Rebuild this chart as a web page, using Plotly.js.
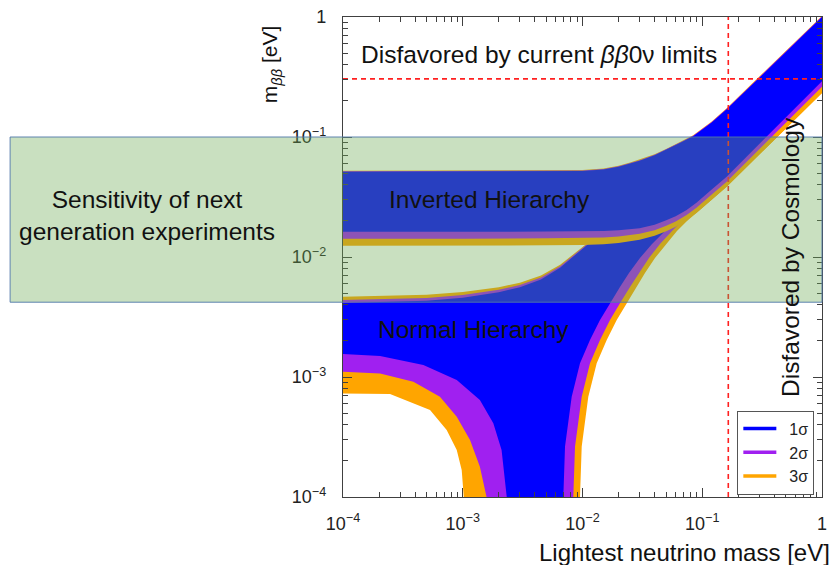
<!DOCTYPE html>
<html>
<head>
<meta charset="utf-8">
<script src="https://cdn.plot.ly/plotly-3.0.1.min.js"></script>
<style>
  html, body { margin: 0; padding: 0; background: #ffffff; }
  #chart { width: 835px; height: 565px; }
</style>
</head>
<body>
<div id="chart"></div>
<script>
// Effective Majorana mass m_bb [eV] versus lightest neutrino mass [eV].

// ---------- Inverted hierarchy ----------
const ihUpX  = [1e-4, 1e-3, 5e-3, 0.01, 0.015, 0.02, 0.025, 0.03, 0.04, 0.05, 0.065, 0.084, 0.12, 0.16, 0.285, 0.5, 1.0];
const ihUp1  = [0.0514, 0.0514, 0.0516, 0.0521, 0.0535, 0.0565, 0.0600, 0.0635, 0.0705, 0.0780, 0.0890, 0.1015, 0.132, 0.170, 0.298, 0.515, 1.0];
const ihUp2  = [0.0519, 0.0519, 0.0521, 0.0526, 0.0540, 0.0571, 0.0606, 0.0641, 0.0712, 0.0788, 0.0899, 0.1025, 0.1333, 0.1717, 0.301, 0.520, 1.01];
const ihUp3  = [0.0524, 0.0524, 0.0526, 0.0531, 0.0546, 0.0576, 0.0612, 0.0648, 0.0719, 0.0796, 0.0908, 0.1035, 0.1346, 0.1734, 0.304, 0.525, 1.02];

const ihLoX  = [1e-4, 1e-3, 5e-3, 0.01, 0.015, 0.02, 0.03, 0.04, 0.05, 0.06, 0.0741, 0.09, 0.116, 0.16, 0.22, 0.303, 0.5, 1.0];
const ihLo1  = [0.01625, 0.01625, 0.01628, 0.01635, 0.0165, 0.0167, 0.0174, 0.0186, 0.0202, 0.0219, 0.0246, 0.0285, 0.0355, 0.0467, 0.0643, 0.0886, 0.146, 0.291];
const ihLo2  = [0.0142, 0.0142, 0.0143, 0.0144, 0.01455, 0.0148, 0.0156, 0.0167, 0.0182, 0.0198, 0.0224, 0.0258, 0.0322, 0.0424, 0.0584, 0.080, 0.131, 0.262];
const ihLo3  = [0.0124, 0.0124, 0.0125, 0.0126, 0.0128, 0.0131, 0.0139, 0.0150, 0.0164, 0.0179, 0.0203, 0.0234, 0.0292, 0.0385, 0.0531, 0.0731, 0.118, 0.233];

// ---------- Normal hierarchy ----------
const nhUpX  = [1e-4, 5e-4, 1e-3, 2e-3, 3e-3, 4.5e-3, 6.5e-3, 8e-3, 9.5e-3, 0.012, 0.015, 0.02, 0.03, 0.05, 0.08, 0.16, 0.3, 0.5, 1.0];
const nhUp1  = [4.14e-3, 4.32e-3, 4.58e-3, 5.08e-3, 5.60e-3, 6.50e-3, 8.15e-3, 9.65e-3, 0.0112, 0.0136, 0.0164, 0.0214, 0.0311, 0.0511, 0.0806, 0.159, 0.288, 0.487, 0.965];
const nhUp2  = [4.38e-3, 4.56e-3, 4.82e-3, 5.33e-3, 5.84e-3, 6.75e-3, 8.37e-3, 9.88e-3, 0.0114, 0.0138, 0.0166, 0.0216, 0.0313, 0.0513, 0.0808, 0.1595, 0.289, 0.488, 0.967];
const nhUp3  = [4.67e-3, 4.85e-3, 5.10e-3, 5.60e-3, 6.10e-3, 7.00e-3, 8.60e-3, 0.0101, 0.0116, 0.0140, 0.0168, 0.0218, 0.0315, 0.0515, 0.081, 0.160, 0.290, 0.490, 0.970];

// Lower bounds dip to zero inside the cancellation funnel (1e-6 stands in for zero on the log axis)
const nhLo1X = [1e-4, 2.04e-4, 4.69e-4, 8.91e-4, 1.39e-3, 1.80e-3, 2.11e-3, 2.33e-3, 2.39e-3,
                6.87e-3, 6.915e-3, 7.145e-3, 8.123e-3, 9.53e-3, 0.01155, 0.0140, 0.01697, 0.02056, 0.02445, 0.0302, 0.03805, 0.04886, 0.06152,
                0.0741, 0.09, 0.116, 0.16, 0.22, 0.303, 0.5, 1.0];
const nhLo1  = [1.556e-3, 1.496e-3, 1.26e-3, 9.44e-4, 6.43e-4, 4.11e-4, 2.46e-4, 1.0e-4, 1e-6,
                1e-6, 1.0e-4, 2.63e-4, 6.85e-4, 1.30e-3, 2.03e-3, 2.99e-3, 4.11e-3, 5.62e-3, 7.36e-3, 9.81e-3, 0.01283, 0.01647, 0.02034,
                0.0246, 0.0285, 0.0355, 0.0467, 0.0643, 0.0886, 0.146, 0.291];
const nhLo2X = [1e-4, 2.04e-4, 3.87e-4, 6.45e-4, 8.91e-4, 1.15e-3, 1.39e-3, 1.58e-3, 1.63e-3,
                8.2e-3, 8.378e-3, 8.66e-3, 9.85e-3, 0.01155, 0.0140, 0.01697, 0.02056, 0.02493, 0.02963, 0.0359, 0.04437, 0.0559, 0.06773,
                0.0741, 0.09, 0.116, 0.16, 0.22, 0.303, 0.5, 1.0];
const nhLo2  = [1.107e-3, 1.07e-3, 9.15e-4, 6.85e-4, 4.67e-4, 2.99e-4, 1.79e-4, 1.0e-4, 1e-6,
                1e-6, 1.0e-4, 2.63e-4, 6.85e-4, 1.30e-3, 2.03e-3, 2.99e-3, 4.11e-3, 5.62e-3, 7.36e-3, 9.81e-3, 0.01283, 0.01647, 0.0200,
                0.0224, 0.0258, 0.0322, 0.0424, 0.0584, 0.080, 0.131, 0.262];
const nhLo3X = [1e-4, 2.47e-4, 5.33e-4, 7.34e-4, 8.91e-4, 9.8e-4, 1.02e-3, 1.04e-3,
                9.45e-3, 9.53e-3, 9.85e-3, 0.01118, 0.01314, 0.01593, 0.0193, 0.02339, 0.02835, 0.03325, 0.0403, 0.04981, 0.06152, 0.07459,
                0.09, 0.116, 0.16, 0.22, 0.303, 0.5, 1.0];
const nhLo3  = [7.3e-4, 7.22e-4, 5.31e-4, 3.62e-4, 2.46e-4, 1.68e-4, 1.0e-4, 1e-6,
                1e-6, 1.0e-4, 2.63e-4, 6.85e-4, 1.30e-3, 2.03e-3, 2.99e-3, 4.11e-3, 5.62e-3, 7.36e-3, 9.81e-3, 0.01283, 0.01647, 0.0200,
                0.0234, 0.0292, 0.0385, 0.0531, 0.0731, 0.118, 0.233];

// ---------- Limits and sensitivity ----------
const cosmologyLimit = 0.165;          // lightest mass limit [eV]
const bb0vLimit = 0.305;               // current m_bb limit [eV]
const nextGenRange = [4.2e-3, 0.1];    // next generation reach [eV]

const axisRange = [1e-4, 1];
const tickVals = [1e-4, 1e-3, 1e-2, 1e-1, 1];
const tickText = ['10<sup>\u22124</sup>', '10<sup>\u22123</sup>', '10<sup>\u22122</sup>', '10<sup>\u22121</sup>', '1'];

const sigmaNames = ['1\u03c3', '2\u03c3', '3\u03c3'];
const sigmaColors = ['#0000ff', '#a020f0', '#ffa500'];

// minor ticks at 2..9 of every decade
const minorTicks = [];
for (let e = -4; e < 0; e++) for (let k = 2; k <= 9; k++) minorTicks.push(k * Math.pow(10, e));

function band(upX, upY, loX, loY, color) {
  return {
    x: upX.concat(loX.slice().reverse()),
    y: upY.concat(loY.slice().reverse()),
    type: 'scatter', mode: 'lines', fill: 'toself',
    fillcolor: color, line: {width: 0, color: color},
    hoverinfo: 'skip', showlegend: false
  };
}

const traces = [
  band(nhUpX, nhUp3, nhLo3X, nhLo3, sigmaColors[2]),
  band(nhUpX, nhUp2, nhLo2X, nhLo2, sigmaColors[1]),
  band(nhUpX, nhUp1, nhLo1X, nhLo1, sigmaColors[0]),
  band(ihUpX, ihUp3, ihLoX, ihLo3, sigmaColors[2]),
  band(ihUpX, ihUp2, ihLoX, ihLo2, sigmaColors[1]),
  band(ihUpX, ihUp1, ihLoX, ihLo1, sigmaColors[0]),
  {x: [cosmologyLimit, cosmologyLimit], y: axisRange, type: 'scatter', mode: 'lines',
   line: {color: '#ff2020', width: 1.6, dash: '5px,4px'}, hoverinfo: 'skip', showlegend: false},
  {x: axisRange, y: [bb0vLimit, bb0vLimit], type: 'scatter', mode: 'lines',
   line: {color: '#ff2020', width: 1.6, dash: '5px,4px'}, hoverinfo: 'skip', showlegend: false}
];
sigmaNames.forEach(function (name, i) {
  traces.push({x: [null], y: [null], type: 'scatter', mode: 'lines', name: '\u2002' + name,
               line: {color: sigmaColors[i], width: 3.5}, hoverinfo: 'skip'});
});

const FONT = 'Liberation Sans, Arial, Helvetica, sans-serif';
const axisCommon = {
  type: 'log', showline: true, mirror: 'ticks', linecolor: '#404040', linewidth: 1.2,
  ticks: 'inside', ticklen: 9, tickwidth: 1, tickcolor: '#404040',
  tickmode: 'array', tickvals: tickVals, ticktext: tickText,
  tickfont: {family: FONT, size: 18, color: '#222'},
  showgrid: false, zeroline: false, fixedrange: true,
  minor: {tickmode: 'array', tickvals: minorTicks, ticks: 'inside', ticklen: 5, tickcolor: '#404040', showgrid: false}
};

function note(text, x, y, size, extra) {
  return Object.assign({text: text, x: x, y: y, xref: 'paper', yref: 'paper', showarrow: false,
    font: {family: FONT, size: size, color: '#111'}, xanchor: 'center', yanchor: 'middle'}, extra || {});
}

const layout = {
  width: 835, height: 565,
  margin: {l: 343, r: 13, t: 17, b: 68},
  paper_bgcolor: '#ffffff', plot_bgcolor: '#ffffff',
  xaxis: Object.assign({}, axisCommon, {range: [-4, 0], ticklabelstandoff: 10}),
  yaxis: Object.assign({}, axisCommon, {range: [-4, 0], ticklabelstandoff: 12}),
  showlegend: true,
  legend: {x: 0.984, y: 0.005, xanchor: 'right', yanchor: 'bottom',
           bgcolor: '#ffffff', bordercolor: '#555', borderwidth: 1,
           font: {family: FONT, size: 16, color: '#222'}, itemwidth: 33},
  shapes: [{
    type: 'rect', layer: 'above', xref: 'paper', yref: 'y',
    x0: -0.695, x1: 1, y0: nextGenRange[0], y1: nextGenRange[1],
    fillcolor: 'rgba(108,172,85,0.37)', line: {color: 'rgba(80,120,170,0.9)', width: 1}
  }],
  annotations: [
    note('Disfavored by current <i>\u03b2\u03b2</i>0\u03bd limits', 0.409, 0.921, 24.5),
    note('Inverted Hierarchy', 0.305, 0.619, 24.5),
    note('Normal Hierarchy', 0.273, 0.348, 24.5),
    note('Sensitivity of next<br>generation experiments', -0.41, 0.5875, 24.5),
    note('Disfavored by Cosmology', 0.933, 0.5, 24.5, {textangle: -90}),
    note('Lightest neutrino mass [eV]', 1.021, -0.1146, 24, {xanchor: 'right'}),
    note('m<sub><i>\u03b2\u03b2</i></sub> [eV]', -0.150, 0.902, 21, {textangle: -90})
  ]
};

Plotly.newPlot('chart', traces, layout, {displayModeBar: false, staticPlot: true});
</script>
</body>
</html>
